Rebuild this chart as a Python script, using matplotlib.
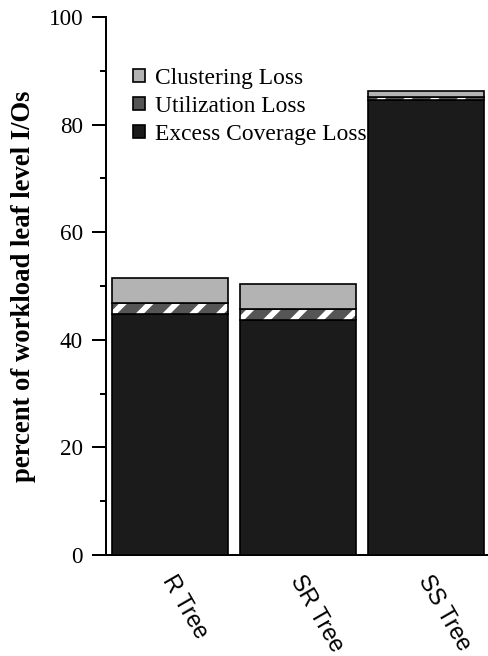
import matplotlib
matplotlib.use("Agg")
import matplotlib.pyplot as plt
from matplotlib.patches import Patch
from matplotlib.legend_handler import HandlerTuple
from matplotlib.ticker import MultipleLocator
from matplotlib.transforms import ScaledTranslation
import numpy as np

categories = ["R Tree", "SR Tree", "SS Tree"]
excess = [44.8, 43.7, 84.6]
utilization = [2.0, 2.0, 0.5]
clustering = [4.7, 4.7, 1.1]
series_labels = ["Clustering Loss", "Utilization Loss", "Excess Coverage Loss"]

DPI = 160
plt.rcParams["hatch.linewidth"] = 2.6
fig = plt.figure(figsize=(488 / DPI, 656 / DPI), dpi=DPI)
ax = fig.add_axes([106 / 488, 101 / 656, 384 / 488, 538 / 656])

x = np.arange(len(categories))
w = 0.906
c_ex, c_ut, c_cl = "#1b1b1b", "#555555", "#b3b3b3"
lw = 0.75
ex = np.array(excess)
ut = np.array(utilization)
cl = np.array(clustering)

ax.bar(x, ex, w, color=c_ex, edgecolor="black", linewidth=lw, zorder=3)
ax.bar(x, ut, w, bottom=ex, color=c_ut, edgecolor="white", linewidth=0, hatch="//", zorder=3)
ax.bar(x, ut, w, bottom=ex, fill=False, edgecolor="black", linewidth=lw, zorder=3)
ax.bar(x, cl, w, bottom=ex + ut, color=c_cl, edgecolor="black", linewidth=lw, zorder=3)

ax.set_xlim(-0.5, 2.5)
ax.set_ylim(0, 100)
ax.yaxis.set_major_locator(MultipleLocator(20))
ax.yaxis.set_minor_locator(MultipleLocator(10))
for s in ["top", "right"]:
    ax.spines[s].set_visible(False)
for s in ["left", "bottom"]:
    ax.spines[s].set_linewidth(0.9)
ax.tick_params(axis="y", which="major", length=6.3, width=0.9, direction="out", pad=4)
ax.tick_params(axis="y", which="minor", length=2.7, width=0.9, direction="out")
ax.tick_params(axis="x", length=0, pad=7)
ax.set_yticks([0, 20, 40, 60, 80, 100])
ax.set_yticklabels(["0", "20", "40", "60", "80", "100"], family="Liberation Serif", fontsize=10.4)
ax.set_xticks(x)
ax.set_xticklabels(categories, family="Liberation Sans", fontsize=10.4,
                   rotation=-60, ha="left", va="top", rotation_mode="anchor")
shift = ScaledTranslation(8 / DPI, 0, fig.dpi_scale_trans)
for t in ax.get_xticklabels():
    t.set_transform(t.get_transform() + shift)
ax.set_ylabel("percent of workload leaf level I/Os", family="Liberation Serif",
              fontweight="bold", fontsize=12.0)
ax.yaxis.set_label_coords(-0.183, 0.5)

h_cl = Patch(facecolor=c_cl, edgecolor="black", linewidth=lw)
ut_fill = Patch(facecolor=c_ut, edgecolor="white", linewidth=0, hatch="/")
try:
    ut_fill.set_hatch_linewidth(5)
except Exception:
    pass
h_ut = (ut_fill, Patch(fill=False, edgecolor="black", linewidth=lw))
h_ex = Patch(facecolor=c_ex, edgecolor="black", linewidth=lw)
leg = ax.legend([h_cl, h_ut, h_ex], series_labels,
                handler_map={tuple: HandlerTuple(ndivide=1, pad=0)},
                loc="upper left", bbox_to_anchor=(0.07, 0.905), frameon=False,
                prop={"family": "Liberation Serif", "size": 10.6},
                handlelength=0.5, handleheight=0.5, handletextpad=0.45,
                labelspacing=0.29, borderpad=0, borderaxespad=0)
leg.set_zorder(1)

fig.savefig("out.png", dpi=DPI)
